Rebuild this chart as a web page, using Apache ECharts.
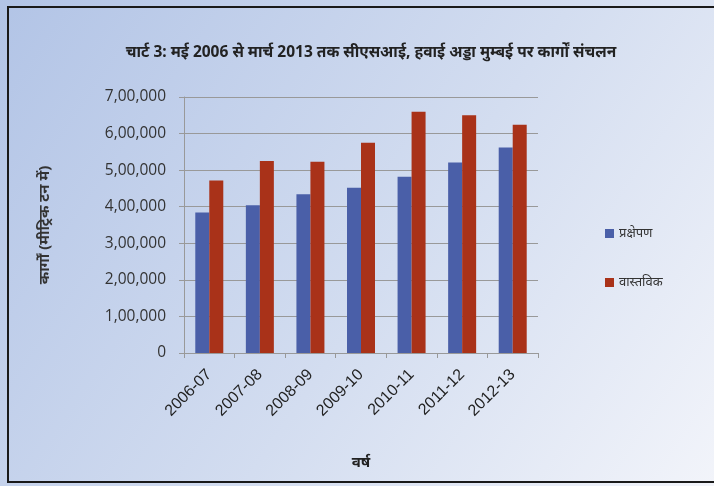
<!DOCTYPE html>
<html><head><meta charset="utf-8">
<script src="https://cdn.jsdelivr.net/npm/echarts@6/dist/echarts.min.js"></script>
<style>html,body{margin:0;padding:0;}#c{width:714px;height:486px;}</style>
</head><body><div id="c"></div>
<script>
const categories = ['2006-07','2007-08','2008-09','2009-10','2010-11','2011-12','2012-13'];
const projected = [384000, 404000, 434000, 452000, 482000, 521000, 562000];
const actual = [472000, 525000, 523000, 575000, 660000, 650000, 624000];
const seriesNames = ['प्रक्षेपण', 'वास्तविक'];
const yTicks = [0, 100000, 200000, 300000, 400000, 500000, 600000, 700000];
const titleText = 'चार्ट 3: मई 2006 से मार्च 2013 तक सीएसआई, हवाई अड्डा मुम्बई पर कार्गों संचलन';
const yName = 'कार्गों (मीट्रिक टन में)';
const xName = 'वर्ष';

function indian(v){
  if (v === 0) return '0';
  const s = String(v);
  const last3 = s.slice(-3);
  let rest = s.slice(0, -3);
  rest = rest.replace(/\B(?=(\d{2})+(?!\d))/g, ',');
  return rest ? rest + ',' + last3 : last3;
}

const chart = echarts.init(document.getElementById('c'));
chart.setOption({
  backgroundColor: new echarts.graphic.LinearGradient(0, 0, 1, 1, [
    {offset: 0, color: '#b2c4e6'},
    {offset: 0.55, color: '#d3ddf0'},
    {offset: 1, color: '#f2f4fa'}
  ]),
  graphic: [{
    type: 'rect', shape: {x: 8, y: 7, width: 720, height: 475},
    style: {fill: 'none', stroke: '#1a1a1a', lineWidth: 2}, silent: true
  }],
  title: {
    text: titleText, left: 366, top: 40, textAlign: 'center',
    textStyle: {fontFamily: 'Noto Sans, sans-serif', fontSize: 15.5, fontWeight: 'bold', color: '#222'}
  },
  legend: {
    orient: 'vertical', left: 600, top: 222, itemGap: 36,
    itemWidth: 9, itemHeight: 9, icon: 'rect',
    textStyle: {fontFamily: 'Noto Sans, sans-serif', fontSize: 13, color: '#333'},
    data: seriesNames
  },
  grid: {left: 184, right: 176, top: 97, bottom: 133},
  xAxis: {
    type: 'category', data: categories,
    name: xName, nameLocation: 'middle', nameGap: 102,
    nameTextStyle: {fontFamily: 'Noto Sans, sans-serif', fontSize: 15, fontWeight: 'bold', color: '#222'},
    axisLine: {lineStyle: {color: '#999'}},
    axisTick: {show: true, lineStyle: {color: '#999'}},
    axisLabel: {rotate: 45, fontFamily: 'Liberation Sans, sans-serif', fontSize: 16, color: '#222', margin: 19}
  },
  yAxis: {
    type: 'value', min: 0, max: 700000, interval: 100000,
    name: yName, nameLocation: 'middle', nameGap: 132, nameRotate: 90,
    nameTextStyle: {fontFamily: 'Noto Sans, sans-serif', fontSize: 15, fontWeight: 'bold', color: '#333'},
    axisLine: {show: true, lineStyle: {color: '#999'}},
    axisTick: {show: true, lineStyle: {color: '#999'}},
    splitLine: {lineStyle: {color: '#999'}},
    axisLabel: {
      fontFamily: 'Open Sans, sans-serif', fontSize: 15.5, color: '#333', margin: 18,
      formatter: v => yTicks.indexOf(v) >= 0 ? indian(v) : ''
    }
  },
  series: [
    {name: seriesNames[0], type: 'bar', data: projected, barWidth: 14, barGap: '0%',
     itemStyle: {color: '#4a5fa8'}},
    {name: seriesNames[1], type: 'bar', data: actual, barWidth: 14,
     itemStyle: {color: '#a93219'}}
  ]
});
</script></body></html>
